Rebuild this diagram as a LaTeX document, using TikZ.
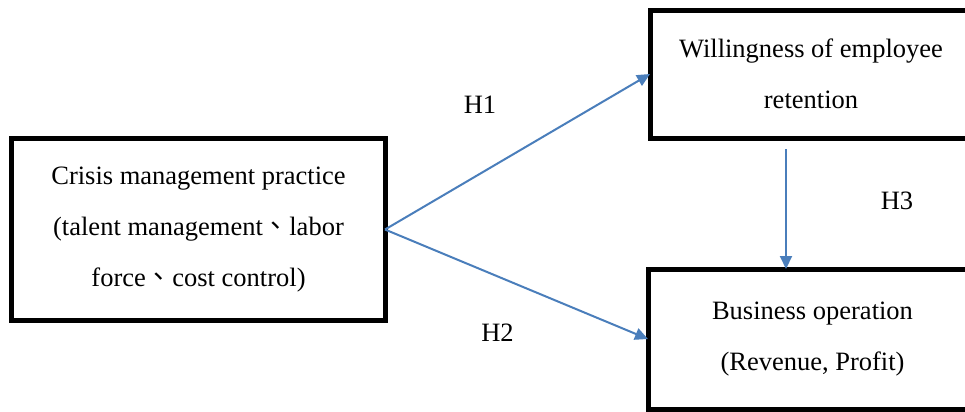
\documentclass[tikz,border=0pt]{standalone}
\usepackage{fontspec}
\setmainfont{Liberation Serif}
\newfontfamily\cjk{Noto Sans CJK TC}
\usetikzlibrary{arrows.meta}
\definecolor{linkblue}{RGB}{74,126,187}
\tikzset{
  box/.style={draw, line width=5bp, outer sep=0pt, inner sep=0pt, align=center,
    font=\fontsize{26.6}{51.2}\selectfont},
  link/.style={draw=linkblue, line width=2bp, -{Triangle[length=13bp,width=12bp]}},
  hyp/.style={font=\fontsize{26.6}{32}\selectfont}
}
\begin{document}
\begin{tikzpicture}[x=1bp,y=-1bp]
  \useasboundingbox (0,0) rectangle (965,411);
  \clip (0,0) rectangle (965,411);

  % Boxes
  \node[box, minimum width=373bp, minimum height=182bp] (crisis) at (198.5,229.5)
    {Crisis management practice\\(talent management{\cjk 、}labor\\force{\cjk 、}cost control)};
  \node[box, minimum width=322bp, minimum height=128bp] (retain) at (811,74)
    {Willingness of employee\\retention};
  \node[box, minimum width=329bp, minimum height=140bp] (oper) at (812.5,339)
    {Business operation\\(Revenue, Profit)};

  % Arrows
  \coordinate (h3top) at (786,149);
  \draw[link] (crisis.east) -- (retain.west);
  \draw[link] (crisis.east) -- (oper.west);
  \draw[link] (h3top) -- (h3top |- oper.north);

  % Hypotheses
  \node[hyp] (h1) at (480,105) {H1};
  \node[hyp] (h2) at (497.5,333) {H2};
  \node[hyp] (h3) at (897,201) {H3};

\end{tikzpicture}
\end{document}
